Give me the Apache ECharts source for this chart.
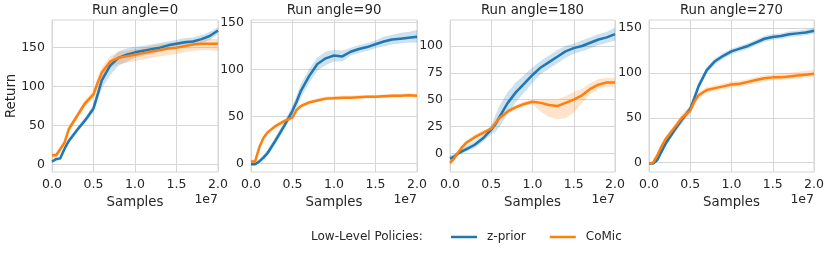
<!DOCTYPE html>
<html><head><meta charset="utf-8">
<script src="https://cdn.jsdelivr.net/npm/echarts@6/dist/echarts.min.js"></script>
<style>html,body{margin:0;padding:0;background:#fff}#c{width:830px;height:255px}</style>
</head><body><div id="c"></div>
<script>
// x in units of 1e7 samples
const X = [0, 0.05, 0.1, 0.15, 0.2, 0.3, 0.4, 0.5, 0.55, 0.6, 0.7, 0.8, 0.9, 1.0, 1.1, 1.2, 1.3, 1.4, 1.5, 1.6, 1.7, 1.8, 1.9, 2.0];
const titles = ['Run angle=0', 'Run angle=90', 'Run angle=180', 'Run angle=270'];
const yTicks0 = [0, 50, 100, 150];
const yTicks1 = [0, 50, 100, 150];
const yTicks2 = [0, 25, 50, 75, 100];
const yTicks3 = [0, 50, 100, 150];
const yRange0 = [-9.5, 185.5];
const yRange1 = [-9.3, 152.9];
const yRange2 = [-17.4, 124.2];
const yRange3 = [-10.4, 158.9];

// Run angle = 0
const z0Mean = [4, 7, 8, 20, 30, 44, 57, 72, 90, 108, 127, 137, 141, 144, 146, 148, 150, 153, 155, 157, 158, 161, 165, 172];
const z0Lo   = [2, 5, 6, 17, 27, 41, 54, 67, 82, 98, 115, 127, 132, 137, 140, 142, 145, 148, 150, 152, 153, 156, 160, 168];
const z0Hi   = [6, 9, 10, 23, 33, 47, 60, 77, 96, 116, 134, 145, 149, 151, 152, 154, 156, 158, 160, 162, 163, 166, 170, 176];
const c0Mean = [12, 12, 20, 28, 45, 62, 79, 90, 105, 118, 132, 137, 139, 141, 143, 145, 147, 149, 150, 152, 154, 155, 155, 155];
const c0Lo   = [9, 9, 17, 25, 42, 58, 75, 85, 99, 111, 124, 129, 131, 133, 135, 137, 139, 141, 142, 144, 146, 147, 147, 146];
const c0Hi   = [15, 15, 23, 31, 49, 66, 83, 95, 111, 124, 139, 144, 146, 148, 150, 152, 154, 156, 157, 159, 160, 161, 161, 161];

// Run angle = 90
const z1Mean = [-1, -1, 2, 6, 11, 25, 40, 56, 66, 77, 93, 106, 112, 115, 114, 119, 122, 124, 127, 130, 132, 133, 134, 135];
const z1Lo   = [-2, -2, 0, 4, 8, 21, 36, 52, 60, 70, 86, 99, 105, 109, 109, 115, 118, 120, 123, 125, 127, 128, 129, 129];
const z1Hi   = [1, 1, 4, 9, 14, 29, 44, 61, 72, 84, 100, 113, 119, 121, 120, 123, 126, 128, 131, 135, 137, 139, 140, 142];
const c1Mean = [2, 2, 17, 27, 33, 40, 45, 49, 57, 61, 65, 67, 69, 69.5, 70, 70, 70.5, 71, 71, 71.5, 72, 72, 72.5, 72];
const c1Lo   = [0.5, 0.5, 15, 25, 31, 38, 43, 47, 55, 59, 63, 65.5, 67.5, 68, 68.5, 68.5, 69, 69.5, 69.5, 70, 70.5, 70.5, 71, 70.5];
const c1Hi   = [3.5, 3.5, 19, 29, 35, 42, 47, 51, 59, 63, 67, 69, 71, 71.5, 72, 72, 72.5, 73, 73, 73.5, 74, 74, 74.5, 74];

// Run angle = 180
const z2Mean = [-5, -3, 0, 2, 4, 8, 14, 22, 27, 34, 47, 57, 65, 73, 80, 85, 90, 95, 98, 100, 103, 106, 108, 111];
const z2Lo   = [-8, -5, -2, 0, 2, 5, 11, 18, 20, 25, 37, 48, 57, 66, 74, 79, 84, 89, 93, 95, 98, 101, 103, 105];
const z2Hi   = [-2, -1, 2, 4, 7, 11, 17, 26, 35, 44, 57, 66, 73, 80, 86, 91, 96, 100, 102, 105, 108, 111, 113, 117];
const c2Mean = [-9, -5, 1, 6, 10, 15, 19, 23, 28, 33, 39, 43, 46, 48, 47, 45, 44, 47, 50, 54, 60, 64, 66, 66];
const c2Lo   = [-11, -7, -1, 4, 8, 13, 17, 21, 26, 31, 37, 41, 44, 46, 39, 34, 32, 33, 38, 47, 55, 60, 62, 62];
const c2Hi   = [-7, -3, 3, 8, 12, 17, 21, 25, 30, 35, 41, 45, 48, 50, 50, 50, 50, 53, 57, 60, 65, 69, 70, 70];

// Run angle = 270
const z3Mean = [-1, -1, 3, 12, 21, 35, 48, 60, 72, 85, 103, 113, 119, 124, 127, 130, 134, 138, 140, 141, 143, 144, 145, 147];
const z3Lo   = [-2, -2, 1, 9, 18, 32, 44, 56, 68, 81, 100, 110, 116, 121, 124, 127, 131, 135, 137, 138, 140, 141, 142, 144];
const z3Hi   = [0, 0, 5, 15, 24, 38, 52, 64, 76, 89, 106, 116, 122, 127, 130, 133, 137, 141, 143, 144, 146, 147, 148, 150];
const c3Mean = [-1, 0, 8, 18, 26, 38, 50, 58, 68, 75, 81, 83, 85, 87, 88, 90, 92, 94, 95, 95, 96, 97, 98, 99];
const c3Lo   = [-2, -1, 6, 15, 23, 35, 46, 54, 65, 72, 78, 80, 82, 84, 85, 87, 89, 91, 92, 92, 93, 94, 95, 96];
const c3Hi   = [0, 1, 10, 21, 29, 41, 54, 62, 71, 78, 84, 86, 88, 90, 91, 93, 95, 97, 98, 99, 100, 101, 102, 103];

const BLUE = '#1f77b4', ORANGE = '#ff7f0e';
const panels = [
  {z:[z0Mean,z0Lo,z0Hi], c:[c0Mean,c0Lo,c0Hi], yt:yTicks0, yr:yRange0},
  {z:[z1Mean,z1Lo,z1Hi], c:[c1Mean,c1Lo,c1Hi], yt:yTicks1, yr:yRange1},
  {z:[z2Mean,z2Lo,z2Hi], c:[c2Mean,c2Lo,c2Hi], yt:yTicks2, yr:yRange2},
  {z:[z3Mean,z3Lo,z3Hi], c:[c3Mean,c3Lo,c3Hi], yt:yTicks3, yr:yRange3}
];
const gridLefts = [52, 251, 450, 649];
const gridWidths = [166, 166, 165, 165];
const TOP = 20, H = 152;
const FONT = 'DejaVu Sans';
const TXT = '#262626';
const GRIDC = '#d6d6d6';

const pairs = (ys) => ys.map((y, i) => [X[i], y]);

function bandSeries(i, name, lo, hi, col) {
  return {
    type: 'custom', name: name + ' band', xAxisIndex: i, yAxisIndex: i, silent: true, z: 1,
    clip: true,
    data: lo.map((v, k) => [X[k], v, hi[k]]),
    encode: {x: 0, y: [1, 2]},
    renderItem: function (params, api) {
      if (params.dataIndex !== 0) return null;
      const pts = [];
      for (let k = 0; k < lo.length; k++) pts.push(api.coord([X[k], lo[k]]));
      for (let k = hi.length - 1; k >= 0; k--) pts.push(api.coord([X[k], hi[k]]));
      return {type: 'polygon', shape: {points: pts},
        style: {fill: col, opacity: 0.22, stroke: col, lineWidth: 0.6, strokeOpacity: 0.35}};
    }
  };
}

const grids = [], xAxes = [], yAxes = [], series = [], graphics = [];
panels.forEach((p, i) => {
  grids.push({left: gridLefts[i], top: TOP, width: gridWidths[i], height: H, show: true, borderColor: GRIDC, borderWidth: 1, containLabel: false});
  xAxes.push({type: 'value', gridIndex: i, min: 0, max: 2, interval: 0.5,
    axisLine: {show: false}, axisTick: {show: false},
    splitLine: {show: true, lineStyle: {color: GRIDC, width: 1}},
    axisLabel: {formatter: v => v.toFixed(1), color: TXT, fontFamily: FONT, fontSize: 12.5, margin: 6, showMinLabel: true, showMaxLabel: true, hideOverlap: false},
    name: 'Samples', nameLocation: 'middle', nameGap: 21,
    nameTextStyle: {color: TXT, fontFamily: FONT, fontSize: 13.3}
  });
  yAxes.push({type: 'value', gridIndex: i, min: p.yr[0], max: p.yr[1],
    axisLine: {show: false},
    axisTick: {show: false, customValues: p.yt},
    splitLine: {show: true, lineStyle: {color: GRIDC, width: 1}},
    axisLabel: {customValues: p.yt, color: TXT, fontFamily: FONT, fontSize: 12.5, margin: 7}
  });
  series.push(bandSeries(i, 'z-prior', p.z[1], p.z[2], BLUE));
  series.push(bandSeries(i, 'CoMic', p.c[1], p.c[2], ORANGE));
  series.push({type: 'line', name: 'z-prior', xAxisIndex: i, yAxisIndex: i, data: pairs(p.z[0]),
    symbol: 'none', lineStyle: {color: BLUE, width: 2.5}, itemStyle: {color: BLUE}, z: 3});
  series.push({type: 'line', name: 'CoMic', xAxisIndex: i, yAxisIndex: i, data: pairs(p.c[0]),
    symbol: 'none', lineStyle: {color: ORANGE, width: 2.5}, itemStyle: {color: ORANGE}, z: 4});

  const cx = gridLefts[i] + gridWidths[i] / 2;
  graphics.push({type: 'text', x: cx, y: 11, style: {text: titles[i], fill: TXT, font: '13.3px "DejaVu Sans"', textAlign: 'center', textVerticalAlign: 'middle'}});
  graphics.push({type: 'text', x: gridLefts[i] + gridWidths[i], y: 200, style: {text: '1e7', fill: TXT, font: '12.5px "DejaVu Sans"', textAlign: 'right', textVerticalAlign: 'middle'}});
});
graphics.push({type: 'text', x: 12, y: 96, rotation: Math.PI / 2, style: {text: 'Return', fill: TXT, font: '13.3px "DejaVu Sans"', textAlign: 'center', textVerticalAlign: 'middle'}});
graphics.push({type: 'text', x: 311, y: 237, style: {text: 'Low-Level Policies:', fill: TXT, font: '12px "DejaVu Sans"', textAlign: 'left', textVerticalAlign: 'middle'}});

const chart = echarts.init(document.getElementById('c'), null, {renderer: 'canvas'});
chart.setOption({
  animation: false,
  backgroundColor: '#fff',
  grid: grids, xAxis: xAxes, yAxis: yAxes, series,
  legend: {data: ['z-prior', 'CoMic'], left: 451, top: 231, padding: 0, icon: 'rect', itemWidth: 26, itemHeight: 2.5,
    itemGap: 24, textStyle: {color: TXT, fontFamily: FONT, fontSize: 12, padding: [0, 0, 0, 5]}, selectedMode: false},
  graphic: graphics
});
</script></body></html>
